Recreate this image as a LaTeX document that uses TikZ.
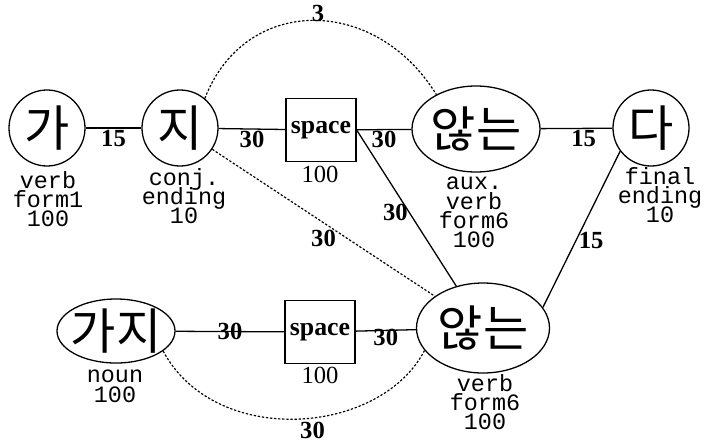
\documentclass[tikz,border=0pt]{standalone}
\usepackage{fontspec}
\setmainfont{Liberation Serif}
\newfontfamily\korfont{Noto Sans CJK KR}
\newfontfamily\monofont{Liberation Mono}
\usetikzlibrary{shapes.geometric}
\newcommand{\ktxt}[1]{\makebox[0pt]{\raisebox{-0.38em}[0pt][0pt]{#1}}}
\newcommand{\lblfont}{\monofont\fontsize{20}{16.5}\selectfont\lineskiplimit=-30pt}
\begin{document}
\begin{tikzpicture}[x=0.03cm, y=-0.03cm,
		kor/.style={draw, line width=1.1pt, inner sep=0pt, font=\korfont\fontsize{42}{42}\selectfont},
		kcirc/.style={kor, circle, minimum size=2.28cm},
		kell/.style={kor, ellipse},
		spbox/.style={draw, line width=1.1pt, minimum width=2.1cm, minimum height=1.89cm, inner sep=0pt, font=\bfseries\fontsize{22}{22}\selectfont},
		lbl/.style={inner sep=0pt, align=center, anchor=north, font=\lblfont},
		num/.style={inner sep=0pt, anchor=north, font=\fontsize{21}{21}\selectfont},
		wt/.style={inner sep=1pt, font=\bfseries\fontsize{21}{21}\selectfont},
		link/.style={line width=1.1pt},
		dotlink/.style={line width=1pt, dash pattern=on 2pt off 1.5pt}]
	\useasboundingbox (0,0) rectangle (708,442);

	% Узлы верхнего ряда
	\node[kcirc] (ga) at (47,128) {\ktxt{가}};
	\node[kcirc] (ji) at (180,128) {\ktxt{지}};
	\node[spbox] (spT) at (321,130) {space};
	\node[kell, minimum width=3.84cm, minimum height=2.58cm] (top) at (476,129) {\ktxt{않는}};
	\node[kcirc] (da) at (651,128) {\ktxt{다}};

	% Узлы нижнего ряда
	\node[kell, minimum width=3.54cm, minimum height=1.92cm] (gaji) at (116,331) {\ktxt{가지}};
	\node[spbox] (spB) at (320,332) {space};
	\node[kell, minimum width=3.99cm, minimum height=2.7cm] (bot) at (483,328) {\ktxt{않는}};

	% Подписи
	\node[lbl] (gaL) at (48,171) {verb\\form1\\100};
	\node[lbl] (jiL) at (184,168) {conj.\\ending\\10};
	\node[num] (spTL) at (320,166) {100};
	\node[lbl] (topL) at (474,177) {aux.\\verb\\form6\\100};
	\node[lbl] (daL) at (660,167) {final\\ending\\10};
	\node[lbl] (gajiL) at (115,370) {noun\\100};
	\node[num] (spBL) at (320,367) {100};
	\node[lbl] (botL) at (485,374) {verb\\form6\\100};

	% Рёбра
	\draw[link] (ga) -- (ji) node[wt, midway, below] (w1) {15};
	\draw[link] (ji) -- (spT) node[wt, midway, below] (w2) {30};
	\draw[link] (spT) -- (top) node[wt, midway, below] (w3) {30};
	\draw[link] (top) -- (da) node[wt, pos=0.6, below] (w4) {15};
	\draw[link] (spT.east) -- (bot) node[wt, pos=0.53, xshift=-0.42cm] (w5) {30};
	\draw[link] (da.217) -- (bot.19) node[wt, pos=0.57, xshift=0.45cm] (w6) {15};
	\draw[link] (gaji) -- (spB) node[wt, midway] (w7) {30};
	\draw[link] (spB) -- (bot) node[wt, midway, yshift=-0.2cm] (w8) {30};

	\draw[dotlink] (ji) -- (bot) node[wt, midway, yshift=-0.48cm] (w9) {30};
	\draw[dotlink] (ji.50) .. controls (245,-5) and (375,-5) .. (top.139)
		node[wt, pos=0.52, yshift=0.2cm] (w10) {3};
	\draw[dotlink] (gaji.-23) .. controls (215,448) and (380,436) .. (bot.201)
		node[wt, pos=0.55, yshift=-0.36cm] (w11) {30};
\end{tikzpicture}
\end{document}
